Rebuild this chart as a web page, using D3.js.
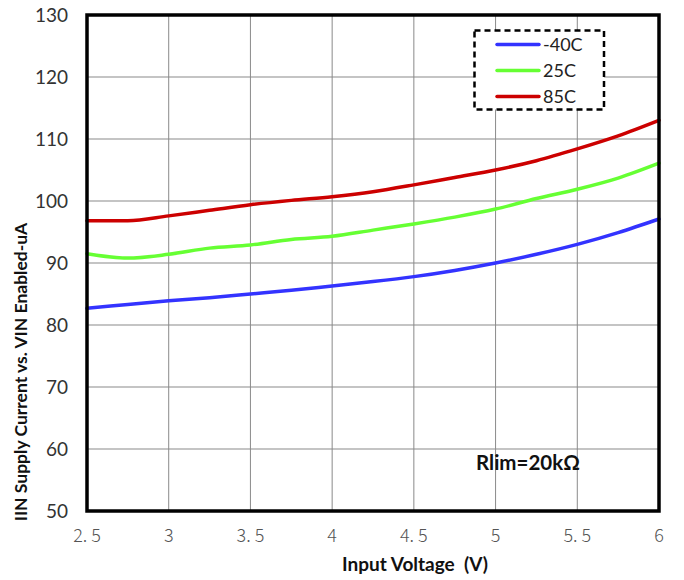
<!DOCTYPE html>
<html><head><meta charset="utf-8">
<script src="https://cdn.jsdelivr.net/npm/d3@7"></script>
<style>body{margin:0;background:#fff}</style>
</head><body>
<svg id="c" width="684" height="580"></svg>
<script>
const voltage = [2.5,2.75,3,3.25,3.5,3.75,4,4.25,4.5,4.75,5,5.25,5.5,5.75,6];
const seriesNames = ["-40C","25C","85C"];
const vals_m40 = [82.7,83.3,83.9,84.4,85.0,85.6,86.3,87.0,87.8,88.8,90.0,91.4,93.0,94.9,97.1];
const vals_25  = [91.5,90.8,91.4,92.4,92.9,93.8,94.3,95.3,96.3,97.4,98.7,100.4,101.9,103.7,106.1];
const vals_85  = [96.8,96.8,97.6,98.5,99.4,100.1,100.7,101.5,102.6,103.8,105.0,106.5,108.4,110.5,113.0];
const xTicks = [2.5,3,3.5,4,4.5,5,5.5,6];
const xTickLabels = ["2. 5","3","3. 5","4","4. 5","5","5. 5","6"];
const yTicks = [50,60,70,80,90,100,110,120,130];
const colors = ["#3333ff","#66ff33","#cc0000"];

const svg = d3.select("#c");
const L=87,R=659,T=15,B=511;
const x = d3.scaleLinear().domain([2.5,6]).range([L,R]);
const y = d3.scaleLinear().domain([50,130]).range([B,T]);

// grid
svg.append("g").selectAll("line").data(yTicks.slice(1,-1)).join("line")
  .attr("x1",L).attr("x2",R).attr("y1",d=>y(d)).attr("y2",d=>y(d))
  .attr("stroke","#b0b0b0").attr("stroke-width",1.3);
svg.append("g").selectAll("line").data(xTicks.slice(1,-1)).join("line")
  .attr("y1",T).attr("y2",B).attr("x1",d=>x(d)).attr("x2",d=>x(d))
  .attr("stroke","#8a8a8a").attr("stroke-width",1);

// lines
const all=[vals_m40,vals_25,vals_85];
const line=d3.line().x((d,i)=>x(voltage[i])).y(d=>y(d)).curve(d3.curveMonotoneX);
all.forEach((s,k)=>{
  svg.append("path").attr("d",line(s)).attr("fill","none")
    .attr("stroke",colors[k]).attr("stroke-width",3.5).attr("stroke-linecap","round");
});

// frame
svg.append("rect").attr("x",L).attr("y",T).attr("width",R-L).attr("height",B-T)
  .attr("fill","none").attr("stroke","#000").attr("stroke-width",3.5);

// y ticks
svg.append("g").selectAll("text").data(yTicks).join("text")
  .attr("x",68).attr("y",d=>y(d)).attr("dy","0.35em").attr("text-anchor","end")
  .attr("font-family","Lato, 'Open Sans', sans-serif").attr("font-size",19).attr("fill","#333")
  .text(d=>d);
// x ticks
svg.append("g").selectAll("text").data(xTicks).join("text")
  .attr("x",d=>x(d)).attr("y",536).attr("dy","0.35em").attr("text-anchor","middle")
  .attr("font-family","'Noto Sans CJK SC', 'DejaVu Sans', sans-serif").attr("font-weight",300)
  .attr("font-size",18).attr("fill","#555")
  .text((d,i)=>xTickLabels[i]);

// axis titles
svg.append("text").attr("x",415).attr("y",571).attr("text-anchor","middle")
  .style("white-space","pre")
  .attr("font-family","Lato, sans-serif").attr("font-weight","bold").attr("font-size",19)
  .attr("fill","#111").text("Input Voltage  (V)");
svg.append("text").attr("transform","translate(27,372) rotate(-90)").attr("text-anchor","middle")
  .attr("font-family","Lato, sans-serif").attr("font-weight","bold").attr("font-size",17.5)
  .attr("fill","#111").text("IIN Supply Current vs. VIN Enabled-uA");

// legend
svg.append("rect").attr("x",474.5).attr("y",30.5).attr("width",129.5).attr("height",79)
  .attr("fill","#fff").attr("stroke","#000").attr("stroke-width",2.5).attr("stroke-dasharray","6,4");
const ly=[44.5,70.5,96.5];
seriesNames.forEach((n,k)=>{
  svg.append("line").attr("x1",497).attr("x2",539).attr("y1",ly[k]).attr("y2",ly[k])
    .attr("stroke",colors[k]).attr("stroke-width",3.5).attr("stroke-linecap","round");
  svg.append("text").attr("x",543).attr("y",ly[k]).attr("dy","0.35em")
    .attr("font-family","Lato, sans-serif").attr("font-size",18).attr("fill","#222").text(n);
});

// annotation
svg.append("text").attr("x",476).attr("y",463).attr("dy","0.35em")
  .attr("font-family","Lato, sans-serif").attr("font-weight","bold").attr("font-size",20.5)
  .attr("fill","#111").text("Rlim=20kΩ");
</script>
</body></html>
